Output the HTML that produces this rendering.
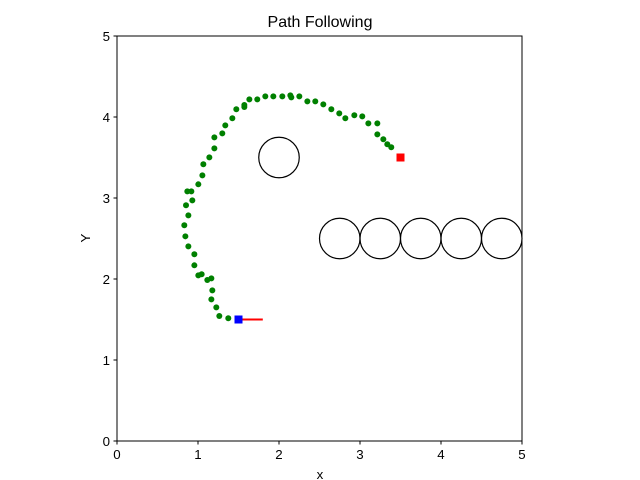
<!DOCTYPE html>
<html><head><meta charset="utf-8"><style>
html,body{margin:0;padding:0;background:#fff;}
svg{display:block;font-family:"Liberation Sans","DejaVu Sans",sans-serif;}
</style></head><body>
<svg id="chart" width="640" height="480">
<text x="320" y="27" text-anchor="middle" font-size="16">Path Following</text>
<text x="320" y="479" text-anchor="middle" font-size="13.3">x</text>
<text x="90" y="238" text-anchor="middle" font-size="13.3" transform="rotate(-90 90 238)">Y</text>
<g id="obst"></g><g id="path"></g><g id="marks"></g>
<rect x="117" y="36" width="405" height="405" fill="none" stroke="#000" stroke-width="1"/>
<g id="ticks"></g>
</svg>
<script>
const pathX=[1.374,1.263,1.226,1.165,1.177,1.115,1.165,1.045,1.004,0.955,0.955,0.881,0.844,0.831,0.881,0.852,0.930,0.868,0.918,1.004,1.054,1.066,1.140,1.202,1.202,1.300,1.337,1.424,1.473,1.572,1.572,1.634,1.732,1.831,1.930,2.041,2.140,2.152,2.251,2.350,2.448,2.547,2.646,2.744,2.819,2.930,3.028,3.103,3.214,3.214,3.288,3.337,3.386];
const pathY=[1.515,1.543,1.650,1.749,1.860,1.988,2.008,2.058,2.045,2.169,2.305,2.403,2.527,2.663,2.786,2.910,2.971,3.082,3.082,3.169,3.280,3.416,3.502,3.613,3.749,3.798,3.897,3.984,4.095,4.123,4.148,4.218,4.218,4.255,4.255,4.255,4.267,4.243,4.255,4.193,4.193,4.156,4.095,4.045,3.984,4.021,4.008,3.922,3.922,3.786,3.725,3.663,3.626];
const obsX=[2,2.75,3.25,3.75,4.25,4.75];
const obsY=[3.5,2.5,2.5,2.5,2.5,2.5];
const obsR=[0.25,0.25,0.25,0.25,0.25,0.25];
const start=[1.5,1.5];
const goal=[3.5,3.5];
const headingLen=0.3;
const ticks=[0,1,2,3,4,5];
const NS="http://www.w3.org/2000/svg";
const sx=v=>117+v*81, sy=v=>441-v*81, sl=v=>v*81;
function mk(t,p,a){const e=document.createElementNS(NS,t);for(const k in a)e.setAttribute(k,a[k]);document.getElementById(p).appendChild(e);return e;}
obsX.forEach((x,i)=>{const c=mk('circle','obst',{cx:sx(x),cy:sy(obsY[i]),r:sl(obsR[i]),fill:'none',stroke:'#000','stroke-width':1.2});

});
pathX.forEach((x,i)=>{const c=mk('circle','path',{cx:sx(x),cy:sy(pathY[i]),r:3,fill:'#008000'});

});
const g=mk('rect','marks',{x:sx(goal[0])-4,y:sy(goal[1])-4,width:8,height:8,fill:'#ff0000'});


const h=mk('line','marks',{x1:sx(start[0]),y1:sy(start[1]),x2:sx(start[0]+headingLen),y2:sy(start[1]),stroke:'#ff0000','stroke-width':2});


const s=mk('rect','marks',{x:sx(start[0])-4,y:sy(start[1])-4,width:8,height:8,fill:'#0000ff'});


ticks.forEach(t=>{
const a=mk('line','ticks',{x1:sx(t),y1:441,x2:sx(t),y2:444.5,stroke:'#000'});


const b=mk('text','ticks',{x:sx(t),y:459,'text-anchor':'middle','font-size':13.3});b.textContent=t;


const c=mk('line','ticks',{x1:113.5,y1:sy(t),x2:117,y2:sy(t),stroke:'#000'});


const d=mk('text','ticks',{x:110,y:sy(t)+5,'text-anchor':'end','font-size':13.3});d.textContent=t;


});
</script>
</body></html>
